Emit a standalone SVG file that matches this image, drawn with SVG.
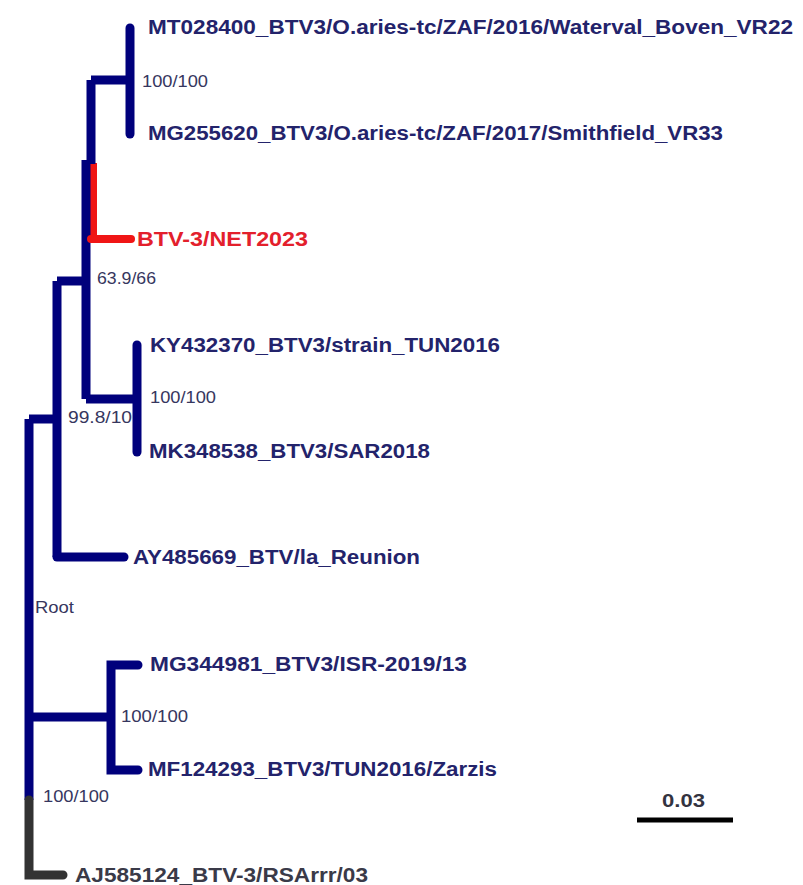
<svg xmlns="http://www.w3.org/2000/svg" width="803" height="885" viewBox="0 0 803 885">
  <style>
    .tip { font-family: "Liberation Sans", Arial, sans-serif; font-weight: bold; font-size: 20px; fill: #23236b; }
    .tip.hl { fill: #e3202c; }
    .sup { font-family: "Liberation Sans", Arial, sans-serif; font-size: 17px; fill: #36365e; }
    .br { fill: none; stroke: #00007c; stroke-width: 9; stroke-linecap: butt; }
    .br.end { stroke-linecap: round; }
    .br.hl { stroke: #f01515; }
    .br.out { stroke: #333333; }
    .scale { stroke: #000000; stroke-width: 5; }
    .scalelab { font-family: "Liberation Sans", Arial, sans-serif; font-weight: bold; font-size: 18px; fill: #333340; }
  </style>
  <rect width="803" height="885" fill="#ffffff"/>

  <!-- internal nodes with support values -->
  <g id="node-zaf" class="node"><text class="sup" x="142" y="87" textLength="66" lengthAdjust="spacingAndGlyphs">100/100</text></g>
  <g id="node-net" class="node"><text class="sup" x="97" y="284" textLength="59" lengthAdjust="spacingAndGlyphs">63.9/66</text></g>
  <g id="node-tun-sar" class="node"><text class="sup" x="150" y="403" textLength="66" lengthAdjust="spacingAndGlyphs">100/100</text></g>
  <g id="node-africa" class="node"><text class="sup" x="68" y="423" textLength="64" lengthAdjust="spacingAndGlyphs">99.8/10</text></g>
  <g id="node-root" class="node"><text class="sup" x="35" y="613" textLength="39" lengthAdjust="spacingAndGlyphs">Root</text></g>
  <g id="node-isr-tun" class="node"><text class="sup" x="121" y="722" textLength="67" lengthAdjust="spacingAndGlyphs">100/100</text></g>
  <g id="node-ingroup" class="node"><text class="sup" x="43" y="802" textLength="66" lengthAdjust="spacingAndGlyphs">100/100</text></g>

  <!-- branches -->
  <g id="connectors">
    <!-- root and outgroup -->
    <path class="br" d="M29,419 V800"/>
    <path class="br out end" d="M29,800 V875 H63"/>
    <!-- ISR / TUN cluster -->
    <path class="br" d="M29,717 H111"/>
    <path class="br end" d="M138,665 H111 V770 H138"/>
    <!-- African clade -->
    <path class="br" d="M29,419 H57"/>
    <path class="br" d="M57,281 V557"/>
    <path class="br end" d="M57,557 H124"/>
    <path class="br" d="M57,281 H86"/>
    <!-- upper group -->
    <path class="br hl" d="M93,163 V239" style="stroke-width:8"/>
    <path class="br" d="M91,80 V164"/>
    <path class="br" d="M86,160 V399"/>
    <path class="br hl end" d="M91,239 H131" style="stroke-width:8"/>
    <path class="br" d="M91,80 H130"/>
    <path class="br end" d="M130,28 V134"/>
    <path class="br" d="M86,399 H137"/>
    <path class="br end" d="M137,345 V452"/>
  </g>

  <!-- tips -->
  <g id="tip-MT028400" class="node"><text class="tip" x="148" y="34" textLength="645" lengthAdjust="spacingAndGlyphs">MT028400_BTV3/O.aries-tc/ZAF/2016/Waterval_Boven_VR22</text></g>
  <g id="tip-MG255620" class="node"><text class="tip" x="148" y="140" textLength="575" lengthAdjust="spacingAndGlyphs">MG255620_BTV3/O.aries-tc/ZAF/2017/Smithfield_VR33</text></g>
  <g id="tip-NET2023" class="node"><text class="tip hl" x="137" y="246" textLength="171" lengthAdjust="spacingAndGlyphs">BTV-3/NET2023</text></g>
  <g id="tip-KY432370" class="node"><text class="tip" x="150" y="352" textLength="350" lengthAdjust="spacingAndGlyphs">KY432370_BTV3/strain_TUN2016</text></g>
  <g id="tip-MK348538" class="node"><text class="tip" x="149" y="458" textLength="281" lengthAdjust="spacingAndGlyphs">MK348538_BTV3/SAR2018</text></g>
  <g id="tip-AY485669" class="node"><text class="tip" x="133" y="564" textLength="287" lengthAdjust="spacingAndGlyphs">AY485669_BTV/la_Reunion</text></g>
  <g id="tip-MG344981" class="node"><text class="tip" x="150" y="671" textLength="317" lengthAdjust="spacingAndGlyphs">MG344981_BTV3/ISR-2019/13</text></g>
  <g id="tip-MF124293" class="node"><text class="tip" x="148" y="776" textLength="349" lengthAdjust="spacingAndGlyphs">MF124293_BTV3/TUN2016/Zarzis</text></g>
  <g id="tip-AJ585124" class="node"><text class="tip" x="75" y="882" textLength="293" lengthAdjust="spacingAndGlyphs" style="fill:#3a3a48">AJ585124_BTV-3/RSArrr/03</text></g>

  <!-- scale bar -->
  <g id="scale-bar">
    <text class="scalelab" x="662" y="807" textLength="43" lengthAdjust="spacingAndGlyphs">0.03</text>
    <line class="scale" x1="637" y1="820" x2="733" y2="820"/>
  </g>
</svg>
